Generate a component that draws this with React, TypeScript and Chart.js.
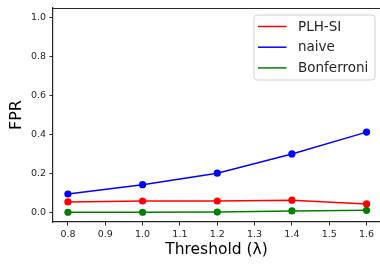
import React, { useEffect, useRef } from "react";
import { Chart, registerables } from "chart.js";

Chart.register(...registerables);

const thresholds = [0.8, 1.0, 1.2, 1.4, 1.6];
const plhSi = [0.053, 0.058, 0.058, 0.062, 0.043];
const naive = [0.094, 0.142, 0.201, 0.3, 0.412];
const bonferroni = [0.0, 0.0, 0.001, 0.007, 0.01];
const xTicks = [0.8, 0.9, 1.0, 1.1, 1.2, 1.3, 1.4, 1.5, 1.6];
const yTicks = [0.0, 0.2, 0.4, 0.6, 0.8, 1.0];

const FONT = "'DejaVu Sans', sans-serif";
const INK = "#262626";

const frameAndLegend = {
  id: "frameAndLegend",
  afterDraw(chart: any) {
    const { ctx, chartArea } = chart;
    ctx.save();
    // top spine
    ctx.strokeStyle = INK;
    ctx.lineWidth = 1.2;
    ctx.beginPath();
    ctx.moveTo(chartArea.left, chartArea.top + 0.5);
    ctx.lineTo(chartArea.right, chartArea.top + 0.5);
    ctx.stroke();

    // legend
    const bx = 254, by = 15, bw = 121, bh = 65, r = 3;
    ctx.fillStyle = "rgba(255,255,255,0.85)";
    ctx.strokeStyle = "#d0d0d0";
    ctx.lineWidth = 1;
    ctx.beginPath();
    ctx.moveTo(bx + r, by);
    ctx.lineTo(bx + bw - r, by);
    ctx.arcTo(bx + bw, by, bx + bw, by + r, r);
    ctx.lineTo(bx + bw, by + bh - r);
    ctx.arcTo(bx + bw, by + bh, bx + bw - r, by + bh, r);
    ctx.lineTo(bx + r, by + bh);
    ctx.arcTo(bx, by + bh, bx, by + bh - r, r);
    ctx.lineTo(bx, by + r);
    ctx.arcTo(bx, by, bx + r, by, r);
    ctx.closePath();
    ctx.fill();
    ctx.stroke();

    ctx.font = `13.5px ${FONT}`;
    ctx.textBaseline = "middle";
    ctx.textAlign = "left";
    chart.data.datasets.forEach((ds: any, i: number) => {
      const y = 26.5 + i * 20.7;
      ctx.strokeStyle = ds.borderColor;
      ctx.lineWidth = 1.5;
      ctx.beginPath();
      ctx.moveTo(258, y);
      ctx.lineTo(286.5, y);
      ctx.stroke();
      ctx.fillStyle = INK;
      ctx.fillText(ds.label, 298, y + 0.5);
    });
    ctx.restore();
  },
};

export default function App() {
  const ref = useRef<HTMLCanvasElement>(null);
  useEffect(() => {
    document.body.style.margin = "0";
    const mk = (label: string, color: string, vals: number[]) => ({
      label,
      data: thresholds.map((x, i) => ({ x, y: vals[i] })),
      borderColor: color,
      backgroundColor: color,
      borderWidth: 1.5,
      pointRadius: 3.6,
      pointHoverRadius: 3.6,
      pointBorderWidth: 0,
      tension: 0,
    });
    const chart = new Chart(ref.current!, {
      type: "line",
      data: {
        datasets: [
          mk("PLH-SI", "#ff0000", plhSi),
          mk("naive", "#0000ff", naive),
          mk("Bonferroni", "#008000", bonferroni),
        ],
      },
      options: {
        animation: false,
        responsive: false,
        layout: { autoPadding: false, padding: { top: 8, right: 0, left: 0, bottom: 0 } },
        plugins: { legend: { display: false }, tooltip: { enabled: false } },
        scales: {
          x: {
            type: "linear",
            min: 0.76,
            max: 1.636,
            afterBuildTicks: (s: any) => {
              s.ticks = xTicks.map((v) => ({ value: v }));
            },
            afterFit: (s: any) => {
              s.height = 42;
              s.paddingLeft = 0;
              s.paddingRight = 0;
            },
            grid: {
              drawOnChartArea: false,
              drawTicks: true,
              tickLength: 3.5,
              color: INK,
              lineWidth: 1,
            },
            border: { display: true, color: INK, width: 1.2 },
            ticks: {
              color: INK,
              font: { family: FONT, size: 9.5 },
              padding: 3,
              maxRotation: 0,
              autoSkip: false,
              callback: (v: any) => Number(v).toFixed(1),
            },
            title: {
              display: true,
              text: "Threshold (λ)",
              color: "#000",
              font: { family: FONT, size: 15.5, lineHeight: 1.2 },
              padding: { top: 0, bottom: 4.7 },
            },
          },
          y: {
            type: "linear",
            min: -0.05,
            max: 1.05,
            afterBuildTicks: (s: any) => {
              s.ticks = yTicks.map((v) => ({ value: v }));
            },
            afterFit: (s: any) => {
              s.width = 53;
              s.paddingTop = 0;
              s.paddingBottom = 0;
            },
            grid: {
              drawOnChartArea: false,
              drawTicks: true,
              tickLength: 3.5,
              color: INK,
              lineWidth: 1,
            },
            border: { display: true, color: INK, width: 1.2 },
            ticks: {
              color: INK,
              font: { family: FONT, size: 9.5 },
              padding: 3.5,
              autoSkip: false,
              callback: (v: any) => Number(v).toFixed(1),
            },
            title: {
              display: true,
              text: "FPR",
              color: "#000",
              font: { family: FONT, size: 16, lineHeight: 1.2 },
              padding: { top: 7.4, bottom: 0 },
            },
          },
        },
      },
      plugins: [frameAndLegend],
    });
    return () => chart.destroy();
  }, []);
  return (
    <div style={{ position: "absolute", left: 0, top: 0, width: 380, height: 264 }}>
      <canvas ref={ref} width={380} height={264} />
    </div>
  );
}
